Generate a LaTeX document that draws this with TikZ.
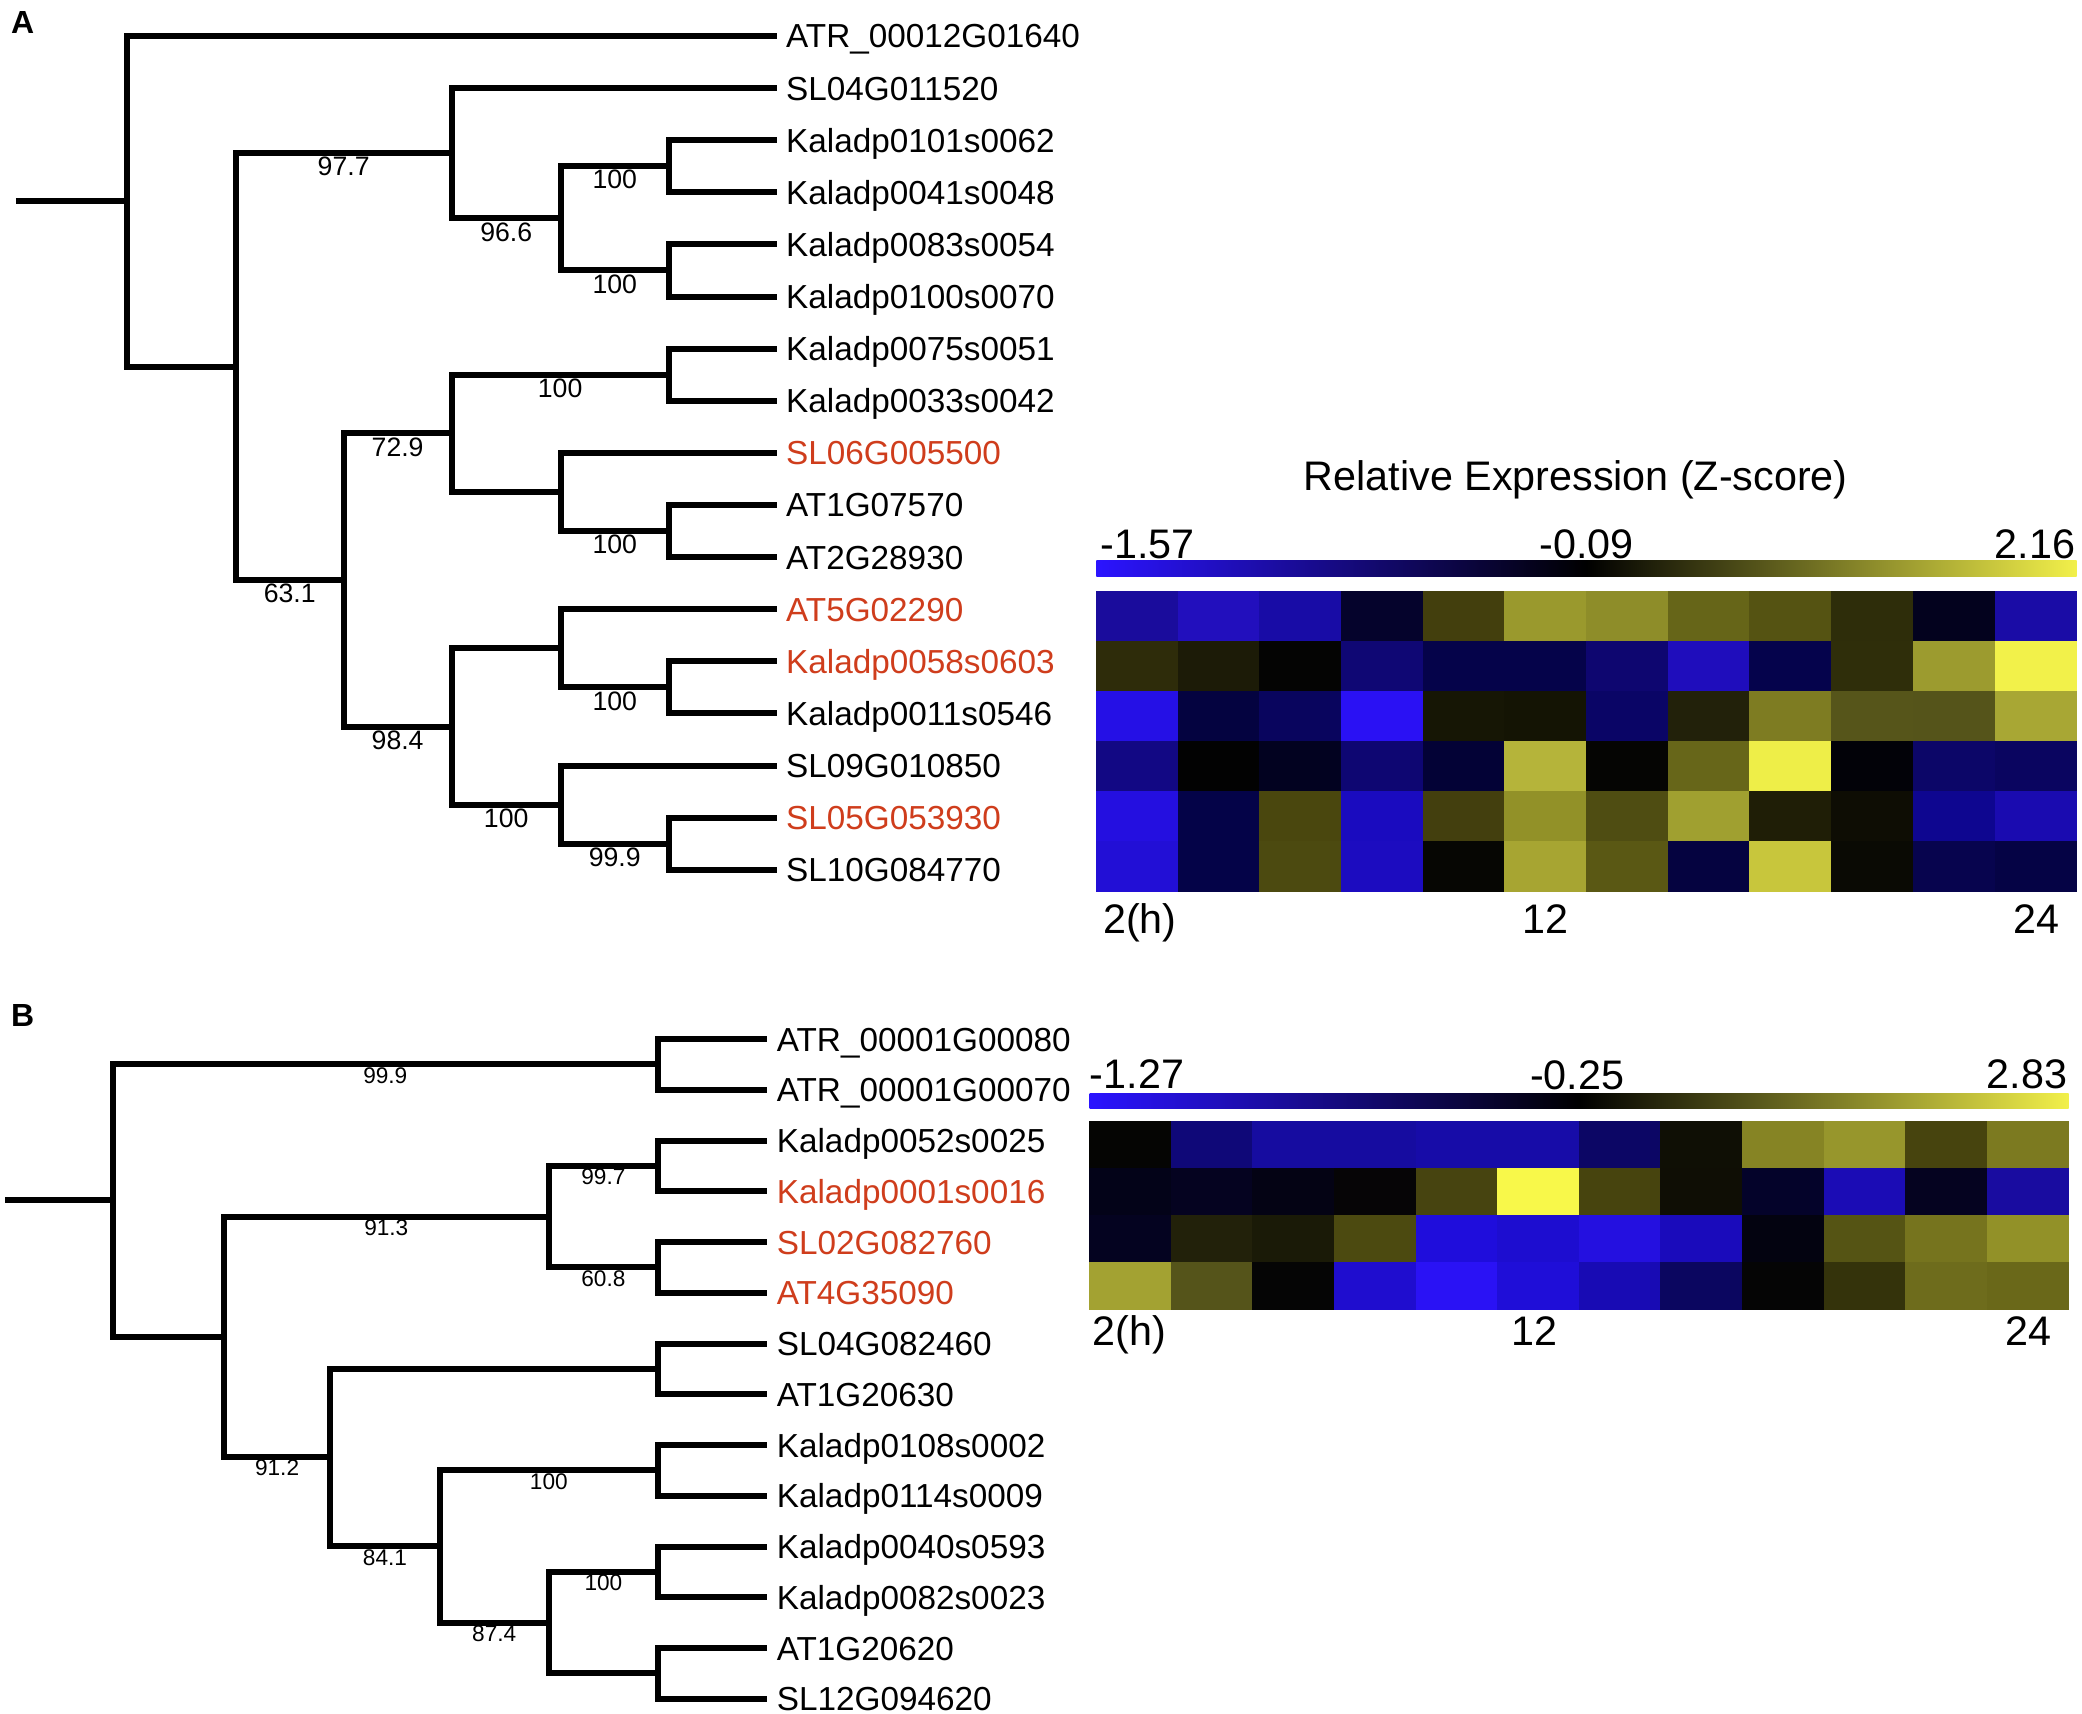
\documentclass[tikz,border=0pt]{standalone}
\usepackage{fontspec}
\setmainfont{Liberation Sans}
\definecolor{redtxt}{HTML}{CF3D1C}
\definecolor{barblue}{HTML}{2B14FF}
\definecolor{baryellow}{HTML}{F2F04A}
\begin{document}
\begin{tikzpicture}[x=1pt,y=-1pt,
  branch/.style={line width=4.5pt, line join=miter},
  leafbranch/.style={branch, shorten >=7pt},
  leaf/.style={anchor=west, inner sep=0pt, text height=18pt, text depth=0pt, font=\fontsize{25}{30}\selectfont},
  redleaf/.style={leaf, text=redtxt},
  bsA/.style={inner sep=0pt, text height=14pt, text depth=0pt, font=\fontsize{20}{24}\selectfont, yshift=-10pt},
  bsB/.style={inner sep=0pt, text height=12pt, text depth=0pt, font=\fontsize{17}{20}\selectfont, yshift=-8pt},
  scalelbl/.style={inner sep=0pt, text height=22pt, text depth=0pt, font=\fontsize{31}{36}\selectfont},
  panel/.style={inner sep=0pt, text height=17pt, text depth=0pt, font=\bfseries\fontsize{24}{28}\selectfont}
]
\useasboundingbox (0,0) rectangle (1563,1286);

% ---------------- Panel A ----------------
\node[panel] (pA) at (17,17) {A};

\node[leaf] (tA1) at (590,27) {ATR\_00012G01640};
\node[leaf] (tA2) at (590,66.1) {SL04G011520};
\node[leaf] (tA3) at (590,105.3) {Kaladp0101s0062};
\node[leaf] (tA4) at (590,144.4) {Kaladp0041s0048};
\node[leaf] (tA5) at (590,183.5) {Kaladp0083s0054};
\node[leaf] (tA6) at (590,222.6) {Kaladp0100s0070};
\node[leaf] (tA7) at (590,261.8) {Kaladp0075s0051};
\node[leaf] (tA8) at (590,300.9) {Kaladp0033s0042};
\node[redleaf] (tA9) at (590,340) {SL06G005500};
\node[leaf] (tA10) at (590,379.1) {AT1G07570};
\node[leaf] (tA11) at (590,418.3) {AT2G28930};
\node[redleaf] (tA12) at (590,457.4) {AT5G02290};
\node[redleaf] (tA13) at (590,496.5) {Kaladp0058s0603};
\node[leaf] (tA14) at (590,535.6) {Kaladp0011s0546};
\node[leaf] (tA15) at (590,574.8) {SL09G010850};
\node[redleaf] (tA16) at (590,613.9) {SL05G053930};
\node[leaf] (tA17) at (590,653) {SL10G084770};

\coordinate (astub) at (12,151.1);
\coordinate (aroot) at (95,151.1);
\coordinate (a2x17) at (177,275.2);
\coordinate (a2x) at (339,115.0);
\coordinate (a3456) at (421,163.95);
\coordinate (a34) at (502,124.85);
\coordinate (a56) at (502,203.05);
\coordinate (a7x17) at (258,435.4);
\coordinate (a7x11) at (339,325.35);
\coordinate (a78) at (502,281.35);
\coordinate (a9x) at (421,369.35);
\coordinate (a1011) at (502,398.7);
\coordinate (a12x17) at (339,545.4);
\coordinate (a12x) at (421,486.7);
\coordinate (a1314) at (502,516.05);
\coordinate (a15x) at (421,604.1);
\coordinate (a1617) at (502,633.45);

\draw[branch] (astub) -- (aroot);
\draw[leafbranch] (aroot) |- (tA1.west);
\draw[branch] (aroot) |- (a2x17);
\draw[branch] (a2x17) |- (a2x) node[pos=0.75, bsA] {97.7};
\draw[branch] (a2x17) |- (a7x17) node[pos=0.75, bsA] {63.1};
\draw[leafbranch] (a2x) |- (tA2.west);
\draw[branch] (a2x) |- (a3456) node[pos=0.75, bsA] {96.6};
\draw[branch] (a3456) |- (a34) node[pos=0.75, bsA] {100};
\draw[branch] (a3456) |- (a56) node[pos=0.75, bsA] {100};
\draw[leafbranch] (a34) |- (tA3.west);
\draw[leafbranch] (a34) |- (tA4.west);
\draw[leafbranch] (a56) |- (tA5.west);
\draw[leafbranch] (a56) |- (tA6.west);
\draw[branch] (a7x17) |- (a7x11) node[pos=0.75, bsA] {72.9};
\draw[branch] (a7x17) |- (a12x17) node[pos=0.75, bsA] {98.4};
\draw[branch] (a7x11) |- (a78) node[pos=0.75, bsA] {100};
\draw[branch] (a7x11) |- (a9x);
\draw[leafbranch] (a78) |- (tA7.west);
\draw[leafbranch] (a78) |- (tA8.west);
\draw[leafbranch] (a9x) |- (tA9.west);
\draw[branch] (a9x) |- (a1011) node[pos=0.75, bsA] {100};
\draw[leafbranch] (a1011) |- (tA10.west);
\draw[leafbranch] (a1011) |- (tA11.west);
\draw[branch] (a12x17) |- (a12x);
\draw[branch] (a12x17) |- (a15x) node[pos=0.75, bsA] {100};
\draw[leafbranch] (a12x) |- (tA12.west);
\draw[branch] (a12x) |- (a1314) node[pos=0.75, bsA] {100};
\draw[leafbranch] (a1314) |- (tA13.west);
\draw[leafbranch] (a1314) |- (tA14.west);
\draw[leafbranch] (a15x) |- (tA15.west);
\draw[branch] (a15x) |- (a1617) node[pos=0.75, bsA] {99.9};
\draw[leafbranch] (a1617) |- (tA16.west);
\draw[leafbranch] (a1617) |- (tA17.west);

% heatmap A
\node[scalelbl] (titleA) at (1183,357) {Relative Expression (Z-score)};
\node[scalelbl, anchor=west] (minA) at (826,408) {-1.57};
\node[scalelbl] (midA) at (1191,408) {-0.09};
\node[scalelbl, anchor=east] (maxA) at (1558,408) {2.16};
\shade[left color=barblue, right color=baryellow, middle color=black] (823,421) rectangle (1559,433);
\foreach \r/\cl in {
 0/{1A0C9C,220FBD,180CA6,05032C,433F0D,9A992D,8E8D29,666518,555312,2E2D0A,03021E,1A0CA6},
 1/{2E2C0A,1C1B07,040403,0F0774,05034A,05034A,0E0670,1F0DBC,05034C,2F2E0A,9C9B2F,F2F14A},
 2/{2510E6,040340,09055E,2A11F4,161605,141404,0A0566,22210A,7E7C22,56551A,55541A,A8A734},
 3/{120884,020202,020220,0E0672,030236,B5B43A,050503,676619,EEEE48,020208,0C0668,0A0560},
 4/{240FE0,040348,4A470E,1A0BBF,433F0E,929128,4F4D12,A0A030,1F1E06,0E0D04,0E0690,1A0BB0},
 5/{220FD6,040348,4C4A10,1C0CC0,060603,A7A532,5A5814,050340,C8C63C,0A0A04,07044E,050345}}{
  \foreach \c [count=\j from 0] in \cl {
    \definecolor{cellc}{HTML}{\c}
    \fill[cellc, draw=cellc, line width=0.6pt] ({823+\j*61.333},{444+\r*37.5}) rectangle ++(61.333,37.5);
  }
}
\node[scalelbl, anchor=west] (hA2) at (828,690) {2(h)};
\node[scalelbl] (hA12) at (1160,690) {12};
\node[scalelbl] (hA24) at (1529,690) {24};

% ---------------- Panel B ----------------
\node[panel] (pB) at (17,762) {B};

\node[leaf] (tB1) at (583,780) {ATR\_00001G00080};
\node[leaf] (tB2) at (583,818.1) {ATR\_00001G00070};
\node[leaf] (tB3) at (583,856.2) {Kaladp0052s0025};
\node[redleaf] (tB4) at (583,894.3) {Kaladp0001s0016};
\node[redleaf] (tB5) at (583,932.4) {SL02G082760};
\node[redleaf] (tB6) at (583,970.5) {AT4G35090};
\node[leaf] (tB7) at (583,1008.6) {SL04G082460};
\node[leaf] (tB8) at (583,1046.7) {AT1G20630};
\node[leaf] (tB9) at (583,1084.8) {Kaladp0108s0002};
\node[leaf] (tB10) at (583,1122.9) {Kaladp0114s0009};
\node[leaf] (tB11) at (583,1161) {Kaladp0040s0593};
\node[leaf] (tB12) at (583,1199.1) {Kaladp0082s0023};
\node[leaf] (tB13) at (583,1237.2) {AT1G20620};
\node[leaf] (tB14) at (583,1275.3) {SL12G094620};

\coordinate (bstub) at (4,901.2);
\coordinate (broot) at (84.5,901.2);
\coordinate (b12) at (494,799.05);
\coordinate (b3x14) at (168,1003.4);
\coordinate (b3456) at (412,913.35);
\coordinate (b34) at (494,875.25);
\coordinate (b56) at (494,951.45);
\coordinate (b7x14) at (248,1093.75);
\coordinate (b78) at (494,1027.65);
\coordinate (b9x14) at (330,1160.9);
\coordinate (b910) at (494,1103.85);
\coordinate (b11x14) at (412,1218.15);
\coordinate (b1112) at (494,1180.05);
\coordinate (b1314) at (494,1256.25);

\draw[branch] (bstub) -- (broot);
\draw[branch] (broot) |- (b12) node[pos=0.75, bsB] {99.9};
\draw[branch] (broot) |- (b3x14);
\draw[leafbranch] (b12) |- (tB1.west);
\draw[leafbranch] (b12) |- (tB2.west);
\draw[branch] (b3x14) |- (b3456) node[pos=0.75, bsB] {91.3};
\draw[branch] (b3x14) |- (b7x14) node[pos=0.75, bsB] {91.2};
\draw[branch] (b3456) |- (b34) node[pos=0.75, bsB] {99.7};
\draw[branch] (b3456) |- (b56) node[pos=0.75, bsB] {60.8};
\draw[leafbranch] (b34) |- (tB3.west);
\draw[leafbranch] (b34) |- (tB4.west);
\draw[leafbranch] (b56) |- (tB5.west);
\draw[leafbranch] (b56) |- (tB6.west);
\draw[branch] (b7x14) |- (b78);
\draw[branch] (b7x14) |- (b9x14) node[pos=0.75, bsB] {84.1};
\draw[leafbranch] (b78) |- (tB7.west);
\draw[leafbranch] (b78) |- (tB8.west);
\draw[branch] (b9x14) |- (b910) node[pos=0.75, bsB] {100};
\draw[branch] (b9x14) |- (b11x14) node[pos=0.75, bsB] {87.4};
\draw[leafbranch] (b910) |- (tB9.west);
\draw[leafbranch] (b910) |- (tB10.west);
\draw[branch] (b11x14) |- (b1112) node[pos=0.75, bsB] {100};
\draw[branch] (b11x14) |- (b1314);
\draw[leafbranch] (b1112) |- (tB11.west);
\draw[leafbranch] (b1112) |- (tB12.west);
\draw[leafbranch] (b1314) |- (tB13.west);
\draw[leafbranch] (b1314) |- (tB14.west);

% heatmap B
\node[scalelbl, anchor=west] (minB) at (818,806) {-1.27};
\node[scalelbl] (midB) at (1184,807) {-0.25};
\node[scalelbl, anchor=east] (maxB) at (1552,806) {2.83};
\shade[left color=barblue, right color=baryellow, middle color=black] (818,821) rectangle (1553,832);
\foreach \r/\cl in {
 0/{050503,0F0878,160CA0,160CA0,170CA8,170CA8,0C0665,0F0F05,868424,97962C,47440E,7C7A20},
 1/{030318,050320,040314,060506,474410,F8F84A,47440E,0F0E05,04032A,1B0CB5,050320,190CA0},
 2/{040320,22210A,1A1A07,4C4A10,1F0DDC,1D0DD0,2410E0,1A0BBB,030310,555414,76741E,929128},
 3/{A3A232,55541A,050505,1F0DCF,2A12F5,1F0ED8,180BB4,0B0660,050505,34330B,6E6C1C,6A6819}}{
  \foreach \c [count=\j from 0] in \cl {
    \definecolor{cellc}{HTML}{\c}
    \fill[cellc, draw=cellc, line width=0.6pt] ({818+\j*61.25},{842+\r*35.25}) rectangle ++(61.25,35.25);
  }
}
\node[scalelbl, anchor=west] (hB2) at (820,999) {2(h)};
\node[scalelbl] (hB12) at (1152,999) {12};
\node[scalelbl] (hB24) at (1523,999) {24};
\end{tikzpicture}
\end{document}
